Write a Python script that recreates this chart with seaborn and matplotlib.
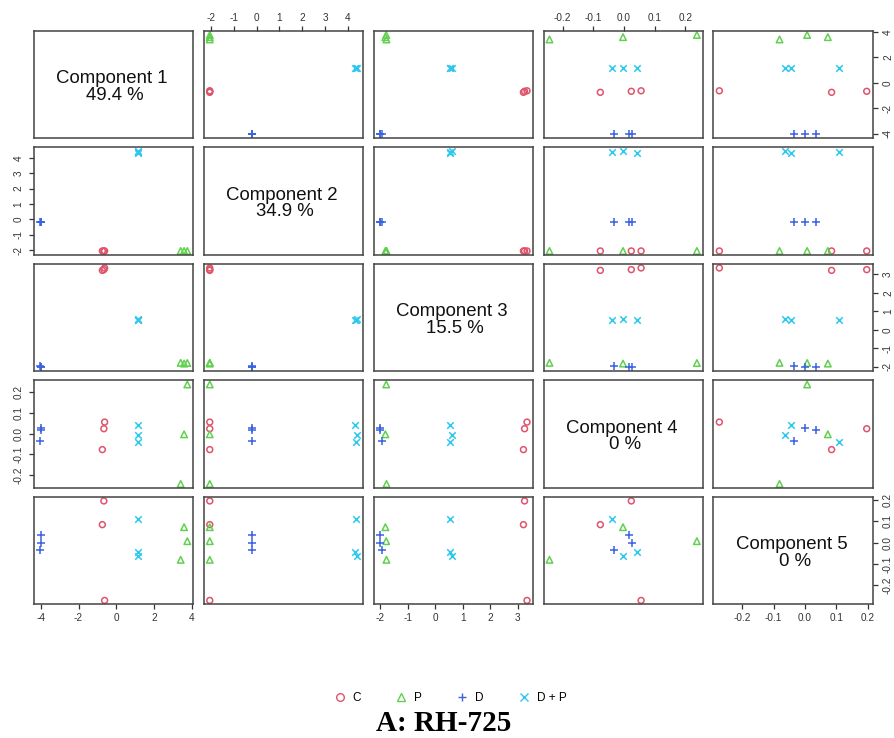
import matplotlib
matplotlib.use("Agg")
import matplotlib.pyplot as plt
from matplotlib.lines import Line2D
from matplotlib.ticker import FixedLocator, FormatStrFormatter
import pandas as pd
import seaborn as sns

# PCA scores, 3 replicates per group
groups = ["C"] * 3 + ["P"] * 3 + ["D"] * 3 + ["D + P"] * 3
pc1 = [-0.66, -0.74, -0.62, 3.40, 3.58, 3.75, -4.04, -4.00, -4.00, 1.15, 1.16, 1.17]
pc2 = [-2.05, -2.05, -2.05, -2.05, -2.05, -2.05, -0.20, -0.20, -0.20, 4.35, 4.41, 4.33]
pc3 = [3.25, 3.21, 3.34, -1.78, -1.82, -1.79, -1.95, -2.03, -2.01, 0.54, 0.59, 0.55]
pc4 = [0.024, -0.077, 0.056, -0.243, -0.003, 0.238, -0.033, 0.018, 0.027, -0.039, -0.004, 0.041]
pc5 = [0.197, 0.085, -0.273, -0.081, 0.073, 0.007, -0.036, 0.035, -0.001, 0.110, -0.063, -0.046]

pcs = ["PC1", "PC2", "PC3", "PC4", "PC5"]
components = ["Component 1", "Component 2", "Component 3", "Component 4", "Component 5"]
variance = ["49.4 %", "34.9 %", "15.5 %", "0 %", "0 %"]

group_order = ["C", "P", "D", "D + P"]
group_colors = ["#DF536B", "#61D04F", "#3A62E2", "#2CC8EE"]
group_markers = ["o", "^", "+", "x"]
group_sizes = [18, 22, 36, 22]

ticks = {
    "PC1": [-4, -2, 0, 2, 4],
    "PC2": [-2, -1, 0, 1, 2, 3, 4],
    "PC3": [-2, -1, 0, 1, 2, 3],
    "PC4": [-0.2, -0.1, 0.0, 0.1, 0.2],
    "PC5": [-0.2, -0.1, 0.0, 0.1, 0.2],
}
tick_fmt = {"PC1": "%d", "PC2": "%d", "PC3": "%d", "PC4": "%.1f", "PC5": "%.1f"}

df = pd.DataFrame({"PC1": pc1, "PC2": pc2, "PC3": pc3, "PC4": pc4, "PC5": pc5, "group": groups})

plt.rcParams["font.family"] = ["Liberation Sans", "DejaVu Sans"]
plt.rcParams["axes.unicode_minus"] = False


def r_points(x, y, color=None, marker="o", s=18, **kws):
    style = {"facecolor": "none", "edgecolor": color} if marker in ("o", "^") else {}
    sns.scatterplot(x=x, y=y, color=color, marker=marker, s=s, linewidth=1.1,
                    legend=False, **style)


g = sns.PairGrid(df, vars=pcs, hue="group", hue_order=group_order,
                 palette=group_colors,
                 hue_kws={"marker": group_markers, "s": group_sizes},
                 despine=False, height=1.6)
g.map_offdiag(r_points)

fig = g.figure
fig.set_size_inches(8.95, 7.38)
fig.subplots_adjust(left=0.038, right=0.975, top=0.958, bottom=0.181,
                    wspace=0.067, hspace=0.084)

# R-style range: data range + 4 %
lims = {}
for v in pcs:
    lo, hi = df[v].min(), df[v].max()
    pad = (hi - lo) * 0.04
    lims[v] = (lo - pad, hi + pad)

n = len(pcs)
for i in range(n):
    for j in range(n):
        ax = g.axes[i, j]
        ax.set_xlabel("")
        ax.set_ylabel("")
        ax.set_xlim(lims[pcs[j]])
        ax.set_ylim(lims[pcs[i]])
        ax.xaxis.set_major_locator(FixedLocator(ticks[pcs[j]]))
        ax.xaxis.set_major_formatter(FormatStrFormatter(tick_fmt[pcs[j]]))
        ax.yaxis.set_major_locator(FixedLocator(ticks[pcs[i]]))
        ax.yaxis.set_major_formatter(FormatStrFormatter(tick_fmt[pcs[i]]))
        ax.tick_params(which="both", bottom=False, top=False, left=False, right=False,
                       labelbottom=False, labeltop=False, labelleft=False, labelright=False,
                       length=3.5, width=0.9, color="#333333",
                       labelsize=7.2, labelcolor="#333333", pad=2.5)
        for s in ax.spines.values():
            s.set_color("#444444")
            s.set_linewidth(1.1)

        if i == n - 1 and j % 2 == 0:
            ax.tick_params(axis="x", bottom=True, labelbottom=True)
        if i == 0 and j % 2 == 1:
            ax.tick_params(axis="x", top=True, labeltop=True)
        if j == 0 and i % 2 == 1:
            ax.tick_params(axis="y", left=True, labelleft=True, labelrotation=90, pad=4)
        if j == n - 1 and i % 2 == 0:
            ax.tick_params(axis="y", right=True, labelright=True, labelrotation=90, pad=4)
        for lab in ax.get_yticklabels():
            lab.set_va("center")

        if i == j:
            ax.text(0.49, 0.515, components[i], transform=ax.transAxes,
                    ha="center", va="baseline", fontsize=13.4, color="#111111")
            ax.text(0.51, 0.36, variance[i], transform=ax.transAxes,
                    ha="center", va="baseline", fontsize=13.4, color="#111111")

handles = []
for c, m in zip(group_colors, group_markers):
    handles.append(Line2D([], [], linestyle="", marker=m, color=c,
                          markerfacecolor="none" if m in ("o", "^") else c,
                          markersize=5.5, markeredgewidth=1.0))
fig.legend(handles, group_order, loc="center", bbox_to_anchor=(0.503, 1 - 698 / 738),
           ncol=4, frameon=False, fontsize=8.5, handlelength=1.0,
           handletextpad=0.6, columnspacing=2.9)

fig.text(0.496, 1 / 738, "A: RH-725", ha="center", va="bottom",
         family=["Liberation Serif", "DejaVu Serif"], fontweight="bold", fontsize=21)

fig.savefig("out.png", dpi=100)
